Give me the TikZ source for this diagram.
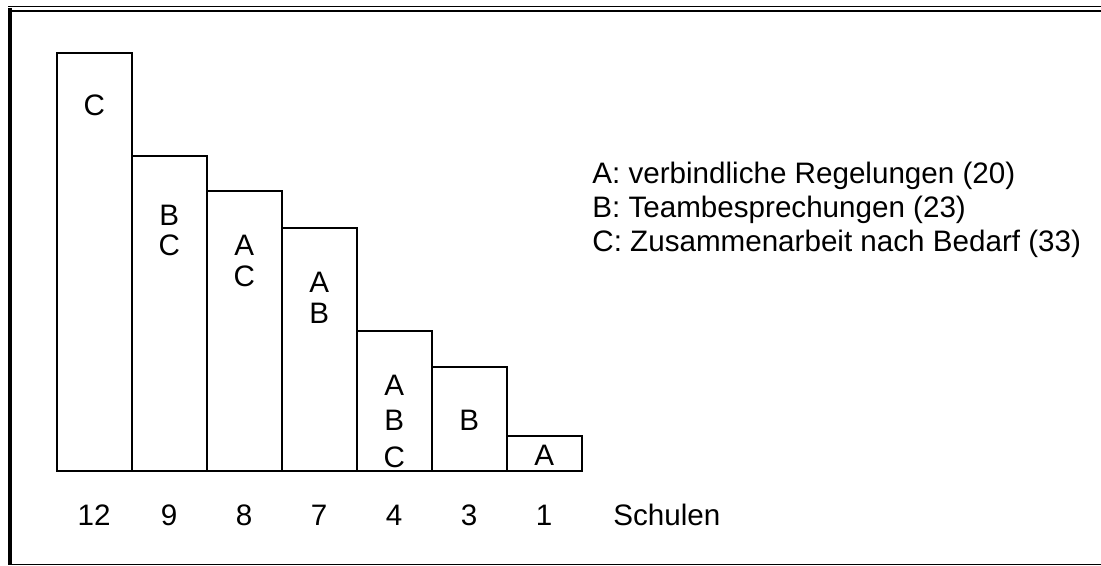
\documentclass[tikz,border=0pt]{standalone}
\usepackage{fontspec}
\setmainfont{Liberation Sans}
\begin{document}
\begin{tikzpicture}[x=0.5pt,y=-0.5pt,
  bar/.style={draw=black,line width=1pt},
  lbl/.style={inner sep=0pt,font=\fontsize{14.8}{17}\selectfont},
  frame/.style={line width=#1,draw=black}]
\useasboundingbox (0,0) rectangle (1101,566);
% outer frame: double rule at the top, heavy rule at the left
\draw[frame=0.7pt] (8,6.5) -- (1101,6.5);
\draw[frame=1.1pt] (10,10.7) -- (1101,10.7);
\draw[frame=2pt] (10,8.5) -- (10,565);
\draw[frame=0.7pt] (8,564.6) -- (1101,564.6);
% bars
\draw[bar] (56.7,470.5) rectangle (131.7,52.7);
\draw[bar] (131.7,470.5) rectangle (206.7,156.5);
\draw[bar] (206.7,470.5) rectangle (281.7,191.5);
\draw[bar] (281.7,470.5) rectangle (356.7,228.5);
\draw[bar] (356.7,470.5) rectangle (431.7,330.5);
\draw[bar] (431.7,470.5) rectangle (506.7,367);
\draw[bar] (506.7,470.5) rectangle (581.7,436);
% letters inside the bars
\node[lbl] (c1) at (94.2,105) {C};
\node[lbl] (b2) at (169.2,215) {B};
\node[lbl] (c2) at (169.2,245) {C};
\node[lbl] (a3) at (244.2,245) {A};
\node[lbl] (c3) at (244.2,276) {C};
\node[lbl] (a4) at (319.2,282) {A};
\node[lbl] (b4) at (319.2,313) {B};
\node[lbl] (a5) at (394.2,385) {A};
\node[lbl] (b5) at (394.2,420) {B};
\node[lbl] (c5) at (394.2,457) {C};
\node[lbl] (b6) at (469.2,420) {B};
\node[lbl] (a7) at (544.2,455) {A};
% counts below the bars
\node[lbl] (n1) at (94.2,515) {12};
\node[lbl] (n2) at (169.2,515) {9};
\node[lbl] (n3) at (244.2,515) {8};
\node[lbl] (n4) at (319.2,515) {7};
\node[lbl] (n5) at (394.2,515) {4};
\node[lbl] (n6) at (469.2,515) {3};
\node[lbl] (n7) at (544.2,515) {1};
\node[lbl,anchor=west] (schulen) at (613,515) {Schulen};
% legend
\node[lbl,anchor=west] (la) at (592,176) {A: verbindliche Regelungen (20)};
\node[lbl,anchor=west] (lb) at (592,210) {B: Teambesprechungen (23)};
\node[lbl,anchor=west] (lc) at (592,244) {C: Zusammenarbeit nach Bedarf (33)};
\end{tikzpicture}
\end{document}
